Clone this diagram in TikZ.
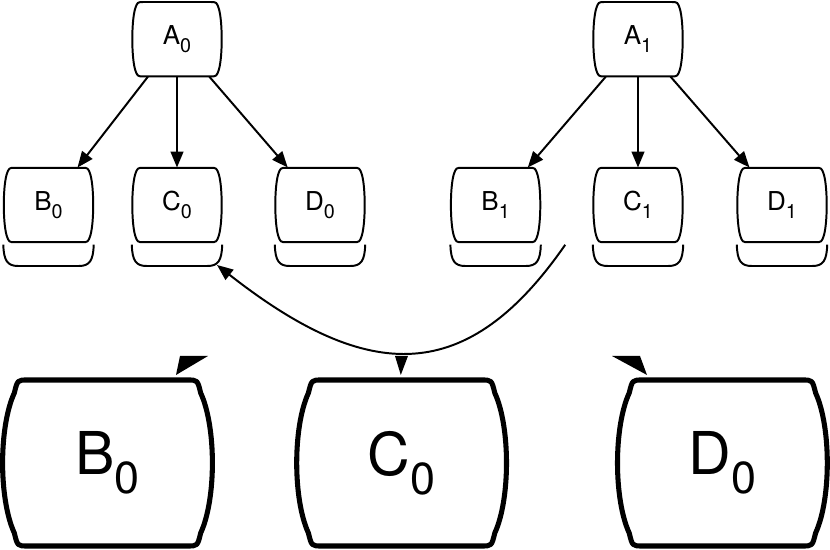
\documentclass[tikz,border=0pt]{standalone}
\usepackage{fontspec}
\setmainfont{TeX Gyre Heros}
\usepackage{graphicx}
\usepackage{tikz}
\usetikzlibrary{arrows.meta}
\newcommand{\lbl}[2]{#1\raisebox{-0.32em}{\scalebox{0.76}{#2}}}
\tikzset{
thin line/.style = { draw = black, line width = 1.4pt, line join = round },
thick line/.style = { draw = black, line width = 3.6pt, line join = round },
small label/.style = { rectangle, draw = none, inner sep = 0pt, minimum width = 2.25cm, minimum height = 1.86cm, font = \fontsize{18.5}{21}\selectfont },
big label/.style = { rectangle, draw = none, inner sep = 0pt, minimum width = 5.28cm, minimum height = 4.15cm, font = \fontsize{42}{48}\selectfont },
tip/.style = { fill = black, draw = none },
}
\tikzset{
pics/top box/.style args={#1, #2}{
        code = {
        \path[thin line] (-0.83, 0.93) -- (0.83, 0.93) .. controls (0.99, 0.93) .. (1.05, 0.75) .. controls (1.14, 0.42) and (1.14, -0.42) .. (1.05, -0.75) .. controls (0.99, -0.93) .. (0.83, -0.93) -- (-0.83, -0.93) .. controls (-0.99, -0.93) .. (-1.05, -0.75) .. controls (-1.14, -0.42) and (-1.14, 0.42) .. (-1.05, 0.75) .. controls (-0.99, 0.93) .. (-0.83, 0.93) -- cycle;
        \node[small label] (#1) at (0.0, 0.0) {#2};
        }
    },
pics/leaf box/.style args={#1, #2}{
        code = {
        \pic {top box={#1, #2}};
        % tray under the box
        \path[thin line] (-1.13, -0.99) .. controls (-1.12, -1.4) and (-1.02, -1.525) .. (-0.76, -1.525) -- (0.76, -1.525) .. controls (1.02, -1.525) and (1.12, -1.4) .. (1.13, -0.99);
        \coordinate (#1 tray) at (1.0, -1.5);
        }
    },
pics/big box/.style args={#1, #2}{
        code = {
        \path[thick line] (-2.0, 2.075) -- (2.0, 2.075) .. controls (2.25, 2.075) .. (2.33, 1.75) .. controls (2.72, 0.9) and (2.72, -0.9) .. (2.33, -1.75) .. controls (2.25, -2.075) .. (2.0, -2.075) -- (-2.0, -2.075) .. controls (-2.25, -2.075) .. (-2.33, -1.75) .. controls (-2.72, -0.9) and (-2.72, 0.9) .. (-2.33, 1.75) .. controls (-2.25, 2.075) .. (-2.0, 2.075) -- cycle;
        \node[big label] (#1) at (0.0, 0.0) {#2};
        }
    }
}
\begin{document}
\begin{tikzpicture}
      \useasboundingbox (0,0) rectangle (20.75,13.75);
      % roots
      \pic at (4.425,12.77) {top box={A0, \lbl{A}{0}}};
      \pic at (15.95,12.77) {top box={A1, \lbl{A}{1}}};
      % children
      \pic at (1.2125,8.625) {leaf box={B0, \lbl{B}{0}}};
      \pic at (4.425,8.625) {leaf box={C0, \lbl{C}{0}}};
      \pic at (8.0,8.625) {leaf box={D0, \lbl{D}{0}}};
      \pic at (12.39,8.625) {leaf box={B1, \lbl{B}{1}}};
      \pic at (15.95,8.625) {leaf box={C1, \lbl{C}{1}}};
      \pic at (19.55,8.625) {leaf box={D1, \lbl{D}{1}}};
      % enlarged row
      \pic at (2.6875,2.175) {big box={bigB, \lbl{B}{0}}};
      \pic at (10.04,2.175) {big box={bigC, \lbl{C}{0}}};
      \pic at (18.06,2.175) {big box={bigD, \lbl{D}{0}}};
      \coordinate (swap) at (14.13,7.63);
      \begin{scope}[>={Triangle[length=0.4cm, width=0.32cm]},
                    every edge/.style={thin line}]
        \path [->] (A0) edge (B0) edge (C0) edge (D0);
        \path [->] (A1) edge (B1) edge (C1) edge (D1);
        \draw [->, thin line] (swap) .. controls (11.7,4.125) and (9.25,4.125) .. (C0 tray);
      \end{scope}
      \fill[tip] (4.4,4.375) -- (4.5,4.85) -- (5.2,4.85) -- cycle;
      \fill[tip] (9.875,4.85) -- (10.2,4.85) -- (10.02,4.375) -- cycle;
      \fill[tip] (15.3,4.85) -- (16.0,4.85) -- (16.175,4.375) -- cycle;
\end{tikzpicture}
\end{document}
